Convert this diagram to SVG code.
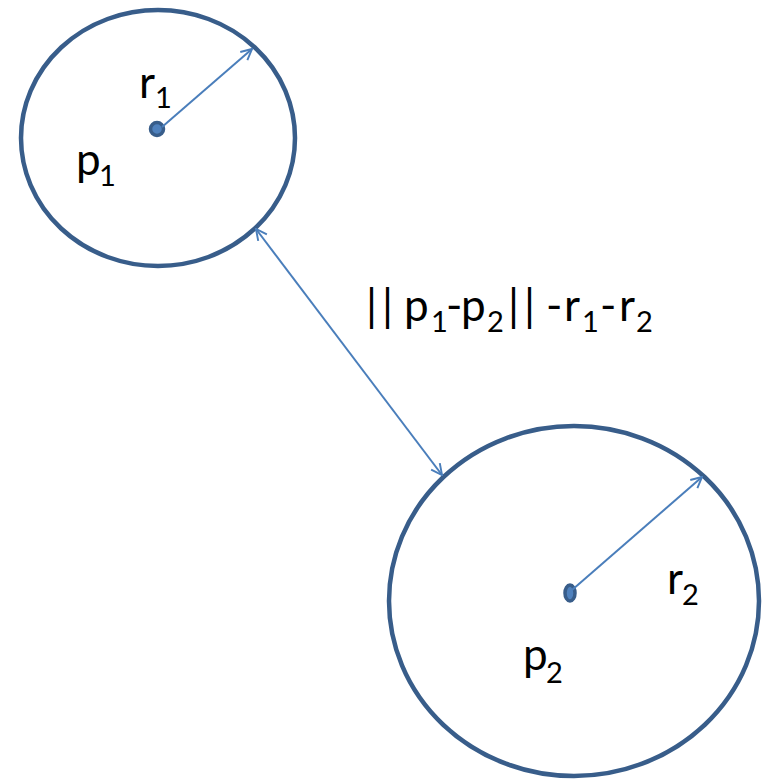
<svg xmlns="http://www.w3.org/2000/svg" width="769" height="779" viewBox="0 0 769 779">
<style>
.circ{fill:none;stroke:#385D8A;stroke-width:4.5}
.dot{fill:#4F81BD;stroke:#385D8A;stroke-width:3.5}
.conn{stroke:#4A7EBB;stroke-width:2;fill:none}
text{font-family:Lato,"Open Sans","Liberation Sans",sans-serif;font-size:44px;fill:#000}
.sub{font-size:29px}
</style>
<defs>
<marker id="ah" viewBox="0 0 12 12" refX="11" refY="6" markerWidth="13" markerHeight="13" markerUnits="userSpaceOnUse" orient="auto-start-reverse">
<path d="M1,1 L11,6 L1,11" fill="none" stroke="#4A7EBB" stroke-width="1.8"/>
</marker>
</defs>
<rect width="769" height="779" fill="#fff"/>
<g id="circle1">
<ellipse class="circ" cx="158" cy="138" rx="137" ry="128"/>
<circle class="dot" cx="157" cy="129" r="6.5"/>
<text x="139" y="98">r<tspan class="sub" x="155" y="108">1</tspan></text>
<text x="76" y="175">p<tspan class="sub" x="99" y="186">1</tspan></text>
</g>
<g id="circle2">
<ellipse class="circ" cx="574" cy="601" rx="185" ry="175"/>
<ellipse class="dot" cx="570" cy="593" rx="5" ry="8"/>
<text x="667" y="594">r<tspan class="sub" x="682" y="605">2</tspan></text>
<text x="523" y="670">p<tspan class="sub" x="546" y="683">2</tspan></text>
</g>
<g id="label">
<text x="366" y="321">|<tspan x="382">|</tspan><tspan x="404">p</tspan><tspan class="sub" x="431" y="332">1</tspan><tspan x="446" y="321">-</tspan><tspan x="461">p</tspan><tspan class="sub" x="487" y="332">2</tspan><tspan x="508" y="321">|</tspan><tspan x="524">|</tspan><tspan x="546">-</tspan><tspan x="564">r</tspan><tspan class="sub" x="582" y="332">1</tspan><tspan x="600" y="321">-</tspan><tspan x="619">r</tspan><tspan class="sub" x="636" y="332">2</tspan></text>
</g>
<g id="connectors">
<line class="conn" x1="162" y1="127" x2="252" y2="49" marker-end="url(#ah)"/>
<line class="conn" x1="572" y1="590" x2="702" y2="477" marker-end="url(#ah)"/>
<line class="conn" x1="256" y1="229" x2="442" y2="475" marker-start="url(#ah)" marker-end="url(#ah)"/>
</g>
</svg>
